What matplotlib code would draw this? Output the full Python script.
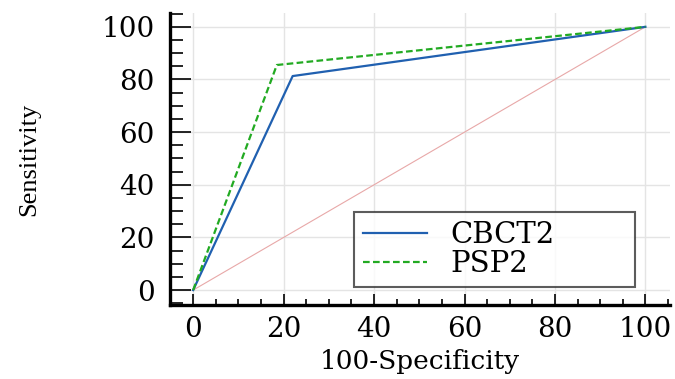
import matplotlib.pyplot as plt
from matplotlib.ticker import MultipleLocator

# ROC points
cbct2_x = [0, 22, 100]
cbct2_y = [0, 81.3, 100]
psp2_x = [0, 18.5, 100]
psp2_y = [0, 85.5, 100]
diag_x = [0, 100]
diag_y = [0, 100]

fig = plt.figure(figsize=(6.75, 3.79), dpi=100)
ax = fig.add_axes([0.252, 0.195, 0.741, 0.771])

ax.plot(diag_x, diag_y, color='#e8a8a8', lw=0.8)
ax.plot(cbct2_x, cbct2_y, color='#2060b0', lw=1.6, label='CBCT2')
ax.plot(psp2_x, psp2_y, color='#22aa22', lw=1.6, ls='--', dashes=(3, 1.5), label='PSP2')

ax.set_xlim(-5.1, 105.5)
ax.set_ylim(-5.7, 105.3)
ax.xaxis.set_major_locator(MultipleLocator(20))
ax.xaxis.set_minor_locator(MultipleLocator(5))
ax.yaxis.set_major_locator(MultipleLocator(20))
ax.yaxis.set_minor_locator(MultipleLocator(5))
ax.grid(True, which='major', color='#e4e4e4', lw=1)
ax.set_axisbelow(True)

for s in ['top', 'right']:
    ax.spines[s].set_visible(False)
for s in ['left', 'bottom']:
    ax.spines[s].set_linewidth(2.4)

ax.tick_params(axis='x', which='major', direction='in', length=8, width=1.2, pad=8)
ax.tick_params(axis='x', which='minor', direction='in', length=4.5, width=1.2)
ax.tick_params(axis='y', which='major', direction='in', length=15, width=1.2, pad=11)
ax.tick_params(axis='y', which='minor', direction='in', length=9, width=1.2)

for lab in ax.get_xticklabels() + ax.get_yticklabels():
    lab.set_fontfamily('DejaVu Serif')
    lab.set_fontsize(20)

ax.set_xlabel('100-Specificity', fontfamily='DejaVu Serif', fontsize=19)
ax.xaxis.set_label_coords(0.5, -0.15)
ax.set_ylabel('Sensitivity', fontfamily='Liberation Serif', fontsize=19)
ax.yaxis.set_label_coords(-0.26, 0.5)

leg = ax.legend(loc='lower left', bbox_to_anchor=(0.368, 0.062, 0.562, 0.25),
                mode='expand', borderaxespad=0,
                prop={'family': 'DejaVu Serif', 'size': 21}, fancybox=False,
                edgecolor='#333333', handlelength=2.2, handletextpad=0.8,
                borderpad=0.3, labelspacing=0.05)
leg.get_frame().set_linewidth(1.5)

fig.savefig('out.png', dpi=100)
